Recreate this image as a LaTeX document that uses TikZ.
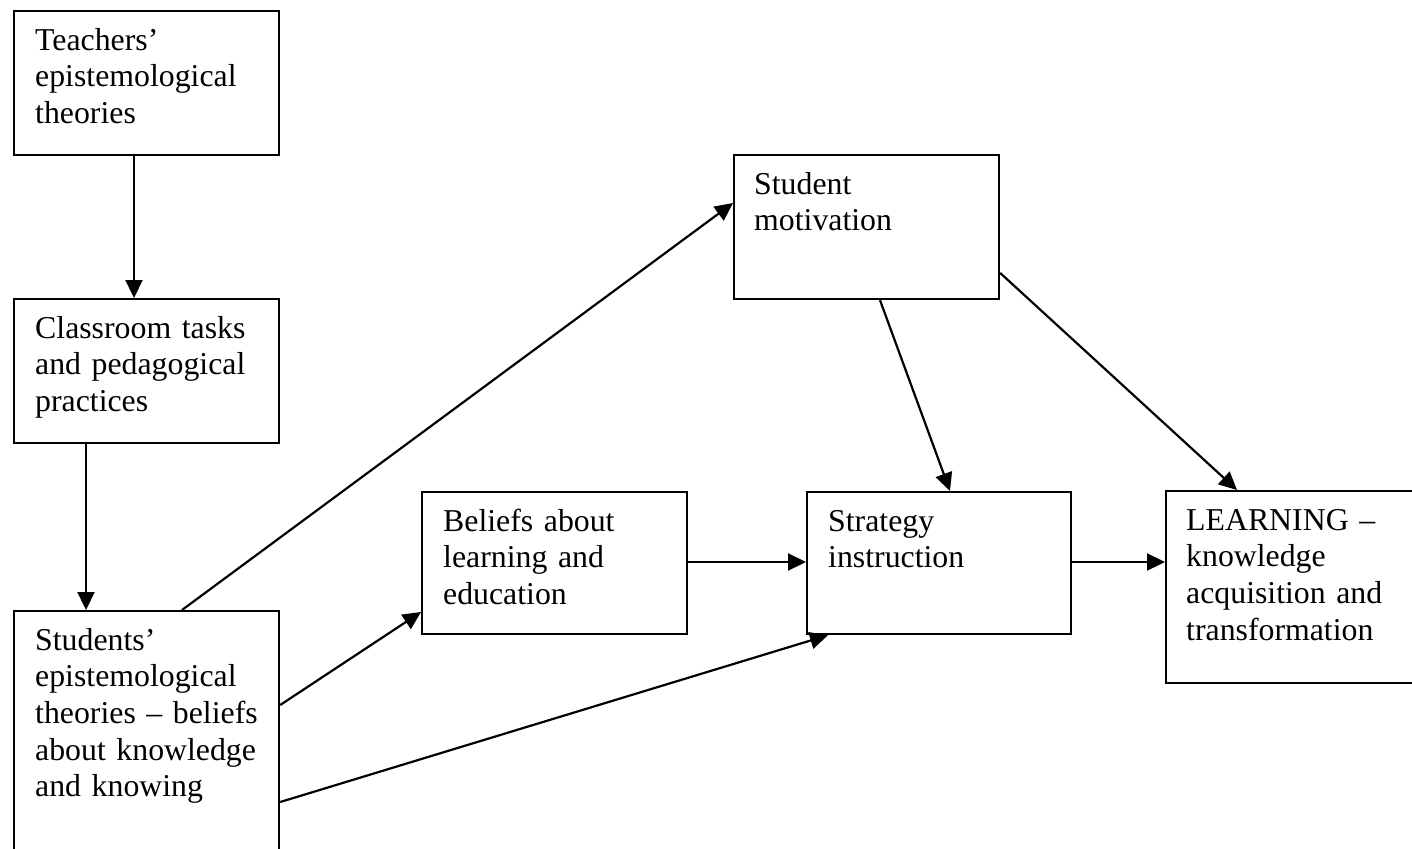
\documentclass[tikz,border=0pt]{standalone}
\usepackage{fontspec}
\setmainfont{Liberation Serif}
\usetikzlibrary{arrows.meta,calc}
\begin{document}
\begin{tikzpicture}[x=1pt,y=-1pt,
  boxnode/.style={draw,line width=2.2pt,rectangle,anchor=north west,inner sep=0pt},
  boxtext/.style={anchor=north west,inner sep=0pt,text width=260pt,align=left,
    font=\fontsize{31.8}{36.6}\selectfont},
  arr/.style={line width=2.2pt,-{Triangle[length=18pt,width=17pt]}}]
\useasboundingbox (0,0) rectangle (1412,848);
\clip (0,0) rectangle (1412,848);
% boxes
\node[boxnode,minimum width=265pt,minimum height=144pt] (t) at (13,10) {};
\node[boxnode,minimum width=265pt,minimum height=144pt] (c) at (13,298) {};
\node[boxnode,minimum width=265pt,minimum height=280pt] (s) at (13,610) {};
\node[boxnode,minimum width=265pt,minimum height=144pt] (m) at (733,154) {};
\node[boxnode,minimum width=265pt,minimum height=142pt] (b) at (421,491) {};
\node[boxnode,minimum width=264pt,minimum height=142pt] (si) at (806,491) {};
\node[boxnode,minimum width=280pt,minimum height=192pt] (l) at (1165,490) {};
% texts
\node[boxtext] (tt) at ([xshift=22pt,yshift=-14.4pt]t.north west) {\strut Teachers’\\epistemological\\theories};
\node[boxtext] (ct) at ([xshift=22pt,yshift=-14.4pt]c.north west) {\strut Classroom tasks\\and pedagogical\\practices};
\node[boxtext] (st) at ([xshift=22pt,yshift=-14.4pt]s.north west) {\strut Students’\\epistemological\\theories – beliefs\\about knowledge\\and knowing};
\node[boxtext] (mt) at ([xshift=21pt,yshift=-14.4pt]m.north west) {\strut Student\\motivation};
\node[boxtext] (bt) at ([xshift=22pt,yshift=-14.4pt]b.north west) {\strut Beliefs about\\learning and\\education};
\node[boxtext] (sit) at ([xshift=22pt,yshift=-14.4pt]si.north west) {\strut Strategy\\instruction};
\node[boxtext] (lt) at ([xshift=21pt,yshift=-14.4pt]l.north west) {\strut LEARNING –\\knowledge\\acquisition and\\transformation};
% connectors
\draw[arr] ([xshift=121pt]t.south west) -- ([xshift=121pt]c.north west);
\draw[arr] ([xshift=73pt]c.south west) -- ([xshift=73pt]s.north west);
\draw[arr] ([xshift=169pt]s.north west) -- ([yshift=-49pt]m.north west);
\draw[arr] ([yshift=-95pt]s.north east) -- ([yshift=-121pt]b.north west);
\draw[arr] ([yshift=-192pt]s.north east) -- ([xshift=22pt]si.south west);
\draw[arr] ([xshift=147pt]m.south west) -- ([xshift=144pt]si.north west);
\draw[arr] ([yshift=-119pt]m.north east) -- ([xshift=72pt]l.north west);
\draw[arr] ([yshift=-71pt]b.north east) -- ([yshift=-71pt]si.north west);
\draw[arr] ([yshift=-71pt]si.north east) -- ([yshift=-72pt]l.north west);
\end{tikzpicture}
\end{document}
